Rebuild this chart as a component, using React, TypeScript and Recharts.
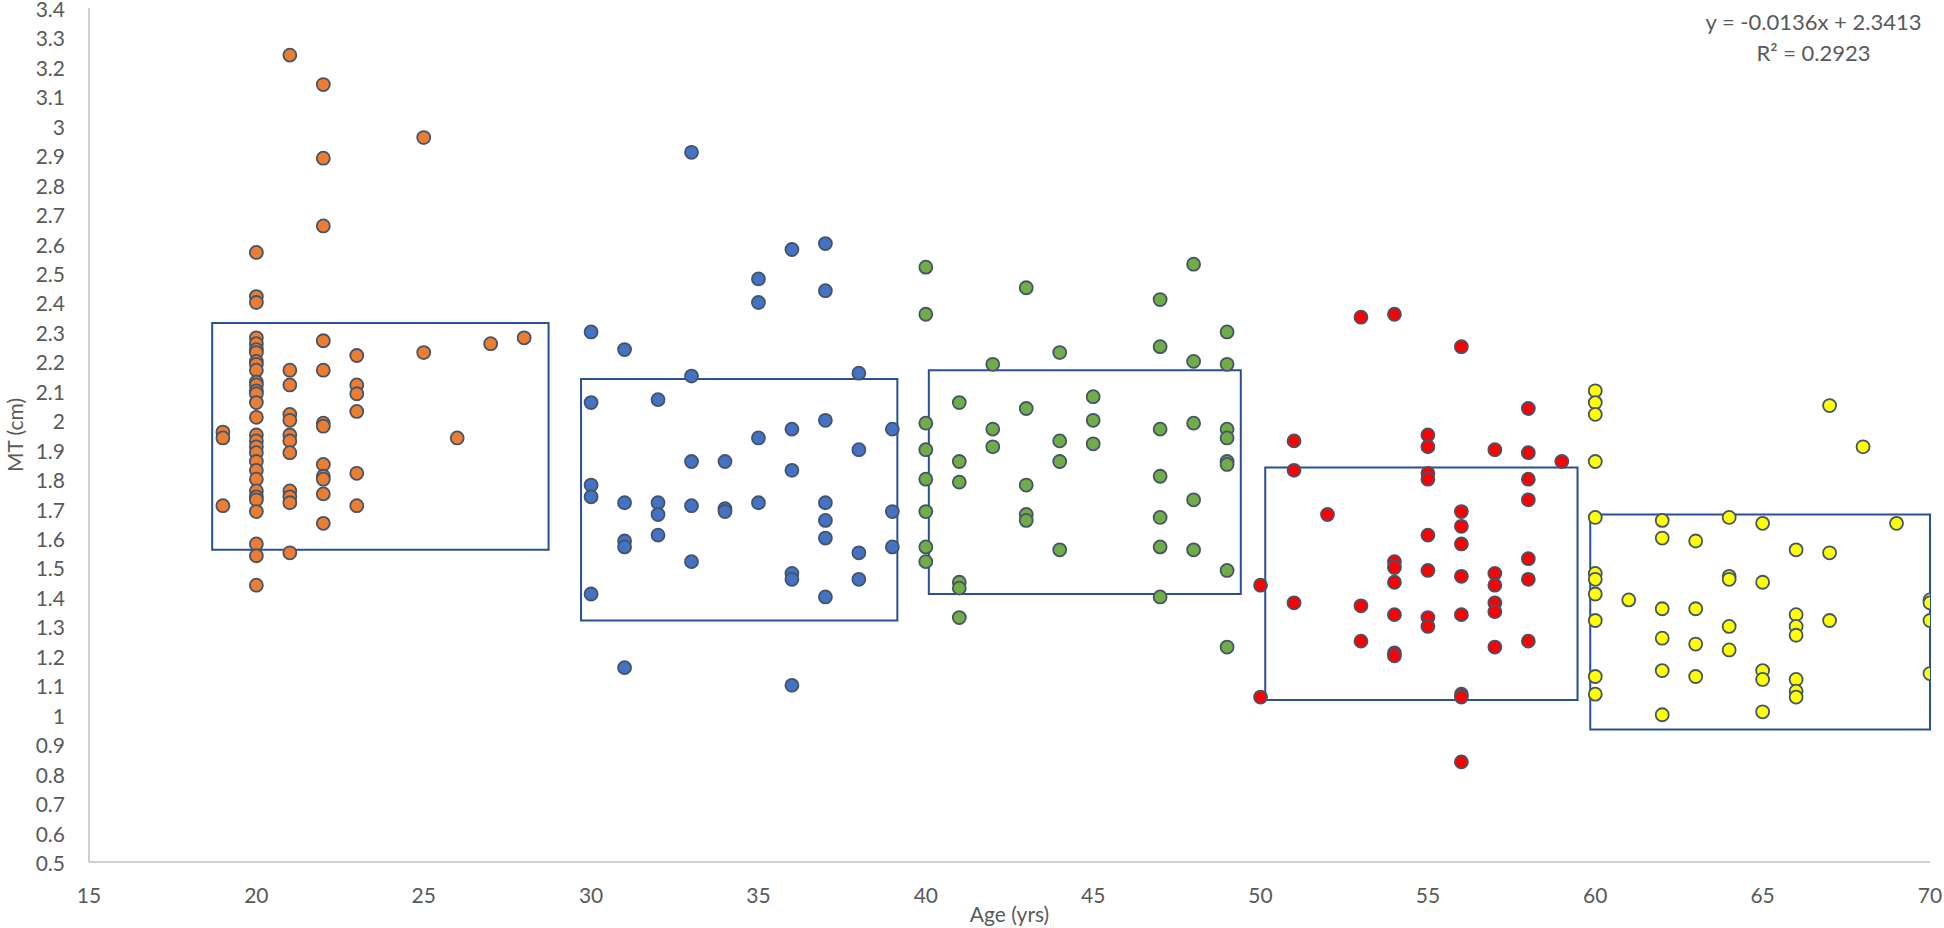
import React from 'react';
import { ScatterChart, Scatter, XAxis, YAxis, ReferenceArea } from 'recharts';

// ---- Data ----
const orangeAge = [
  19, 19, 19,
  20, 20, 20, 20, 20, 20, 20, 20, 20, 20, 20, 20, 20, 20, 20, 20, 20, 20, 20, 20, 20, 20, 20, 20, 20, 20, 20, 20, 20, 20,
  21, 21, 21, 21, 21, 21, 21, 21, 21, 21, 21, 21,
  22, 22, 22, 22, 22, 22, 22, 22, 22, 22, 22, 22,
  23, 23, 23, 23, 23, 23,
  25, 25, 26, 27, 28,
];
const orangeMT = [
  1.96, 1.94, 1.71,
  2.57, 2.42, 2.40, 2.28, 2.26, 2.24, 2.23, 2.20, 2.19, 2.17, 2.13, 2.12, 2.10, 2.09, 2.06, 2.01, 1.95, 1.93, 1.91, 1.89, 1.86, 1.83, 1.80, 1.76, 1.74, 1.73, 1.69, 1.58, 1.54, 1.44,
  3.24, 2.17, 2.12, 2.02, 2.00, 1.95, 1.93, 1.89, 1.76, 1.74, 1.72, 1.55,
  3.14, 2.89, 2.66, 2.27, 2.17, 1.99, 1.98, 1.85, 1.81, 1.80, 1.75, 1.65,
  2.22, 2.12, 2.09, 2.03, 1.82, 1.71,
  2.96, 2.23, 1.94, 2.26, 2.28,
];

const blueAge = [
  30, 30, 30, 30, 30,
  31, 31, 31, 31, 31,
  32, 32, 32, 32,
  33, 33, 33, 33, 33,
  34, 34, 34,
  35, 35, 35, 35,
  36, 36, 36, 36, 36, 36,
  37, 37, 37, 37, 37, 37, 37,
  38, 38, 38, 38,
  39, 39, 39,
];
const blueMT = [
  2.30, 2.06, 1.78, 1.74, 1.41,
  2.24, 1.72, 1.59, 1.57, 1.16,
  2.07, 1.72, 1.68, 1.61,
  2.91, 2.15, 1.86, 1.71, 1.52,
  1.86, 1.70, 1.69,
  2.48, 2.40, 1.94, 1.72,
  2.58, 1.97, 1.83, 1.48, 1.46, 1.10,
  2.60, 2.44, 2.00, 1.72, 1.66, 1.60, 1.40,
  2.16, 1.90, 1.55, 1.46,
  1.97, 1.69, 1.57,
];

const greenAge = [
  40, 40, 40, 40, 40, 40, 40, 40,
  41, 41, 41, 41, 41, 41,
  42, 42, 42,
  43, 43, 43, 43, 43,
  44, 44, 44, 44,
  45, 45, 45,
  47, 47, 47, 47, 47, 47, 47,
  48, 48, 48, 48, 48,
  49, 49, 49, 49, 49, 49, 49, 49,
];
const greenMT = [
  2.52, 2.36, 1.99, 1.90, 1.80, 1.69, 1.57, 1.52,
  2.06, 1.86, 1.79, 1.45, 1.43, 1.33,
  2.19, 1.97, 1.91,
  2.45, 2.04, 1.78, 1.68, 1.66,
  2.23, 1.93, 1.86, 1.56,
  2.08, 2.00, 1.92,
  2.41, 2.25, 1.97, 1.81, 1.67, 1.57, 1.40,
  2.53, 2.20, 1.99, 1.73, 1.56,
  2.30, 2.19, 1.97, 1.94, 1.86, 1.85, 1.49, 1.23,
];

const redAge = [
  50, 50,
  51, 51, 51,
  52,
  53, 53, 53,
  54, 54, 54, 54, 54, 54, 54,
  55, 55, 55, 55, 55, 55, 55, 55,
  56, 56, 56, 56, 56, 56, 56, 56, 56,
  57, 57, 57, 57, 57, 57,
  58, 58, 58, 58, 58, 58, 58,
  59,
];
const redMT = [
  1.44, 1.06,
  1.93, 1.83, 1.38,
  1.68,
  2.35, 1.37, 1.25,
  2.36, 1.52, 1.50, 1.45, 1.34, 1.21, 1.20,
  1.95, 1.91, 1.82, 1.80, 1.61, 1.49, 1.33, 1.30,
  2.25, 1.69, 1.64, 1.58, 1.47, 1.34, 1.07, 1.06, 0.84,
  1.90, 1.48, 1.44, 1.38, 1.35, 1.23,
  2.04, 1.89, 1.80, 1.73, 1.53, 1.46, 1.25,
  1.86,
];

const yellowAge = [
  60, 60, 60, 60, 60, 60, 60, 60, 60, 60, 60,
  61,
  62, 62, 62, 62, 62, 62,
  63, 63, 63, 63,
  64, 64, 64, 64, 64,
  65, 65, 65, 65, 65,
  66, 66, 66, 66, 66, 66, 66,
  67, 67, 67,
  68,
  69,
  70, 70, 70, 70,
];
const yellowMT = [
  2.10, 2.06, 2.02, 1.86, 1.67, 1.48, 1.46, 1.41, 1.32, 1.13, 1.07,
  1.39,
  1.66, 1.60, 1.36, 1.26, 1.15, 1.00,
  1.59, 1.36, 1.24, 1.13,
  1.67, 1.47, 1.46, 1.30, 1.22,
  1.65, 1.45, 1.15, 1.12, 1.01,
  1.56, 1.34, 1.30, 1.27, 1.12, 1.08, 1.06,
  2.05, 1.55, 1.32,
  1.91,
  1.65,
  1.39, 1.38, 1.32, 1.14,
];

// group boxes (age range, MT range)
const boxAgeFrom = [18.68, 29.7, 40.09, 50.14, 59.85];
const boxAgeTo = [28.73, 39.15, 49.41, 59.47, 70];
const boxMTFrom = [1.56, 1.32, 1.41, 1.05, 0.95];
const boxMTTo = [2.33, 2.14, 2.17, 1.84, 1.68];

const xTicks = [15, 20, 25, 30, 35, 40, 45, 50, 55, 60, 65, 70];
const yTicks = [
  0.5, 0.6, 0.7, 0.8, 0.9, 1, 1.1, 1.2, 1.3, 1.4, 1.5, 1.6, 1.7, 1.8, 1.9,
  2, 2.1, 2.2, 2.3, 2.4, 2.5, 2.6, 2.7, 2.8, 2.9, 3, 3.1, 3.2, 3.3, 3.4,
];

const equationText = 'y = -0.0136x + 2.3413';
const r2Text = 'R² = 0.2923';
const xTitle = 'Age (yrs)';
const yTitle = 'MT (cm)';

// ---- Build ----
const toPoints = (ages: number[], mts: number[]) =>
  ages.map((a, i) => ({ age: a, mt: mts[i] }));

const seriesList = [
  { name: '20s', color: '#ED7D31', data: toPoints(orangeAge, orangeMT) },
  { name: '30s', color: '#4472C4', data: toPoints(blueAge, blueMT) },
  { name: '40s', color: '#70AD47', data: toPoints(greenAge, greenMT) },
  { name: '50s', color: '#FF0000', data: toPoints(redAge, redMT) },
  { name: '60s', color: '#FFFF00', data: toPoints(yellowAge, yellowMT) },
];

const FONT = "Lato, 'Open Sans', 'Noto Sans', sans-serif";
const TEXT_COLOR = '#595959';
const AXIS_COLOR = '#BFBFBF';
const MARKER_STROKE = '#44546A';
const BOX_COLOR = '#2A4F94';

const makeShape = (color: string) => (props: any) => {
  const { cx, cy } = props;
  if (cx == null || cy == null) return <g />;
  return <circle cx={cx} cy={cy} r={6.5} fill={color} stroke={MARKER_STROKE} strokeWidth={1.8} />;
};

const XTitle = (props: any) => {
  const vb = props.viewBox || { x: 0, y: 0, width: 0, height: 0 };
  return (
    <text
      x={vb.x + vb.width / 2}
      y={vb.y + vb.height}
      textAnchor="middle"
      fill={TEXT_COLOR}
      fontFamily={FONT}
      fontSize={21}
    >
      {xTitle}
    </text>
  );
};

const YTitle = (props: any) => {
  const vb = props.viewBox || { x: 0, y: 0, width: 0, height: 0 };
  const x = vb.x + 14;
  const y = vb.y + vb.height / 2;
  return (
    <text
      x={x}
      y={y}
      transform={`rotate(-90 ${x} ${y})`}
      textAnchor="middle"
      dominantBaseline="central"
      fill={TEXT_COLOR}
      fontFamily={FONT}
      fontSize={21}
    >
      {yTitle}
    </text>
  );
};

const fmtY = (v: number) => String(Number(v.toFixed(1)));

export default function App() {
  return (
    <div style={{ position: 'absolute', left: 0, top: 0, width: 1944, height: 928, background: '#fff' }}>
      <ScatterChart
        width={1944}
        height={928}
        margin={{ top: 8, right: 14, bottom: 6, left: 0 }}
      >
        <XAxis
          type="number"
          dataKey="age"
          domain={[15, 70]}
          ticks={xTicks}
          interval={0}
          allowDataOverflow
          height={60}
          tickSize={0}
          tickMargin={26}
          tickLine={false}
          axisLine={{ stroke: AXIS_COLOR, strokeWidth: 1.5 }}
          tick={{ fill: TEXT_COLOR, fontSize: 21, fontFamily: FONT }}
          label={<XTitle />}
        />
        <YAxis
          type="number"
          dataKey="mt"
          domain={[0.5, 3.4]}
          ticks={yTicks}
          interval={0}
          allowDataOverflow
          width={89}
          tickSize={0}
          tickMargin={24}
          tickLine={false}
          tickFormatter={fmtY}
          axisLine={{ stroke: AXIS_COLOR, strokeWidth: 1.5 }}
          tick={{ fill: TEXT_COLOR, fontSize: 21, fontFamily: FONT, dy: 1.5 }}
          label={<YTitle />}
        />
        {seriesList.map((s) => (
          <Scatter
            key={s.name}
            name={s.name}
            data={s.data}
            fill={s.color}
            shape={makeShape(s.color)}
            isAnimationActive={false}
          />
        ))}
        {boxAgeFrom.map((x1, i) => (
          <ReferenceArea
            key={`box-${i}`}
            x1={x1}
            x2={boxAgeTo[i]}
            y1={boxMTFrom[i]}
            y2={boxMTTo[i]}
            fill="none"
            fillOpacity={0}
            stroke={BOX_COLOR}
            strokeWidth={2}
            strokeOpacity={1}
            ifOverflow="extendDomain"
          />
        ))}
      </ScatterChart>
      <div
        style={{
          position: 'absolute',
          left: 1663.5,
          top: 6,
          width: 300,
          textAlign: 'center',
          fontFamily: FONT,
          fontSize: 22,
          lineHeight: '31px',
          color: TEXT_COLOR,
        }}
      >
        <div>{equationText}</div>
        <div>{r2Text}</div>
      </div>
    </div>
  );
}
